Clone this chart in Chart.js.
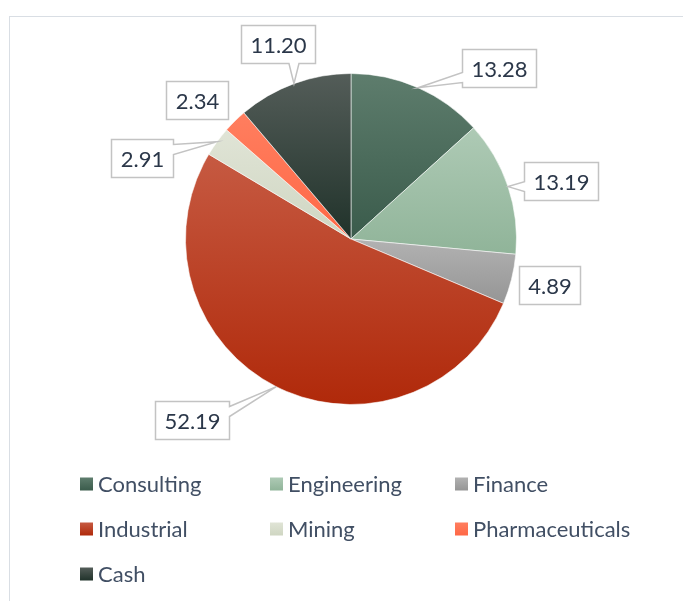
<!DOCTYPE html>
<html>
<head>
<meta charset="utf-8">
<script src="https://cdn.jsdelivr.net/npm/chart.js@4.4.1/dist/chart.umd.min.js"></script>
<style>
  html, body { margin: 0; padding: 0; background: #ffffff; }
  #wrap { width: 683px; height: 601px; }
</style>
</head>
<body>
<div id="wrap"><canvas id="pieChart" width="683" height="601"></canvas></div>
<script>
// chart values
const categories = ['Consulting', 'Engineering', 'Finance', 'Industrial', 'Mining', 'Pharmaceuticals', 'Cash'];
const shares = [13.28, 13.19, 4.89, 52.19, 2.91, 2.34, 11.20];
const valueLabels = ['13.28', '13.19', '4.89', '52.19', '2.91', '2.34', '11.20'];

// slice colours (top / bottom of the vertical gradient)
const topColors = ['#5e7d6d', '#aecab5', '#b2b2b2', '#c65a42', '#e0e4d6', '#ff7e5f', '#545d59'];
const bottomColors = ['#3a5b4b', '#90b499', '#959595', '#b0290a', '#cfd6c2', '#ff6846', '#20322a'];

// where each callout box sits, relative to the slice edge
const labelOffsets = [[81, -20], [53, -6], [38, 6], [-84, 33], [-75, 16], [-38, -21], [-16, -40]];

const FONT = 'Lato, "Open Sans", sans-serif';

function sliceGradient(context) {
    const chart = context.chart;
    const area = chart.chartArea;
    const i = context.dataIndex;
    if (!area || i === undefined) return topColors[i] || '#999';
    const cx = (area.left + area.right) / 2;
    const cy = (area.top + area.bottom) / 2;
    const r = Math.min(area.width, area.height) / 2;
    const total = shares.reduce((a, b) => a + b, 0);
    let before = 0;
    for (let k = 0; k < i; k++) before += shares[k];
    const s = -Math.PI / 2 + before / total * Math.PI * 2;
    const e = s + shares[i] / total * Math.PI * 2;
    const ys = [cy, cy + r * Math.sin(s), cy + r * Math.sin(e)];
    [-Math.PI / 2, Math.PI / 2, Math.PI * 1.5].forEach(a => {
        if (a >= s && a <= e) ys.push(cy + r * Math.sin(a));
    });
    const g = chart.ctx.createLinearGradient(0, Math.min(...ys), 0, Math.max(...ys));
    g.addColorStop(0, topColors[i]);
    g.addColorStop(1, bottomColors[i]);
    return g;
}

// light frame round the chart area
const framePlugin = {
    id: 'frame',
    beforeDraw(chart) {
        const ctx = chart.ctx;
        ctx.save();
        ctx.strokeStyle = '#d9dee4';
        ctx.lineWidth = 1;
        ctx.strokeRect(9.5, 16.5, 900, 900);
        ctx.restore();
    }
};

// callout boxes with a small wedge pointing at the slice
const calloutPlugin = {
    id: 'callouts',
    afterDatasetsDraw(chart) {
        const ctx = chart.ctx;
        const arcs = chart.getDatasetMeta(0).data;
        ctx.save();
        ctx.font = '22px ' + FONT;
        ctx.textAlign = 'center';
        ctx.textBaseline = 'middle';
        arcs.forEach((arc, i) => {
            const mid = (arc.startAngle + arc.endAngle) / 2;
            const ax = arc.x + Math.cos(mid) * arc.outerRadius;
            const ay = arc.y + Math.sin(mid) * arc.outerRadius;
            const bx = ax + labelOffsets[i][0];
            const by = ay + labelOffsets[i][1];
            const w = ctx.measureText(valueLabels[i]).width + 18;
            const h = 38;
            const L = Math.round(bx - w / 2) + 0.5, R = Math.round(bx + w / 2) + 0.5;
            const T = Math.round(by - h / 2) + 0.5, B = Math.round(by + h / 2) + 0.5;

            const corners = [[L, T], [R, T], [R, B], [L, B]];
            const dist = {
                top: T - ay, right: ax - R, bottom: ay - B, left: L - ax
            };
            const side = Object.keys(dist).reduce((a, b) => dist[a] > dist[b] ? a : b);
            const path = [];
            const edgeIndex = { top: 0, right: 1, bottom: 2, left: 3 }[side];
            const useWedge = dist[side] > 12;
            corners.forEach((c, k) => {
                path.push(c);
                if (useWedge && k === edgeIndex) {
                    const n = corners[(k + 1) % 4];
                    const horiz = side === 'top' || side === 'bottom';
                    const m = 10;
                    const half = 5;
                    if (horiz) {
                        const cxp = Math.min(Math.max(ax, L + m), R - m);
                        const dir = Math.sign(n[0] - c[0]);
                        path.push([cxp - dir * half, c[1]], [ax, ay], [cxp + dir * half, c[1]]);
                    } else {
                        const cyp = Math.min(Math.max(ay, T + m), B - m);
                        const dir = Math.sign(n[1] - c[1]);
                        path.push([c[0], cyp - dir * half], [ax, ay], [c[0], cyp + dir * half]);
                    }
                }
            });
            ctx.beginPath();
            path.forEach((p, k) => k ? ctx.lineTo(p[0], p[1]) : ctx.moveTo(p[0], p[1]));
            ctx.closePath();
            ctx.fillStyle = '#ffffff';
            ctx.fill();
            ctx.strokeStyle = '#c3c3c3';
            ctx.lineWidth = 1.5;
            ctx.stroke();

            ctx.fillStyle = '#2b3749';
            ctx.fillText(valueLabels[i], (L + R) / 2, (T + B) / 2 + 1);
        });
        ctx.restore();
    }
};

// legend laid out in three fixed columns
const legendPlugin = {
    id: 'gridLegend',
    afterDraw(chart) {
        const ctx = chart.ctx;
        const colX = [80, 270, 455];
        const rowY = [484, 529, 574];
        ctx.save();
        ctx.font = '22px ' + FONT;
        ctx.textBaseline = 'middle';
        ctx.textAlign = 'left';
        chart.data.labels.forEach((label, i) => {
            const x = colX[i % 3];
            const y = rowY[Math.floor(i / 3)];
            const g = ctx.createLinearGradient(0, y - 6.5, 0, y + 6.5);
            g.addColorStop(0, topColors[i]);
            g.addColorStop(1, bottomColors[i]);
            ctx.fillStyle = g;
            ctx.fillRect(x, y - 6.5, 13, 13);
            ctx.fillStyle = '#414f64';
            ctx.fillText(label, x + 18, y + 1);
        });
        ctx.restore();
    }
};

const ctx = document.getElementById('pieChart').getContext('2d');
new Chart(ctx, {
    type: 'pie',
    data: {
        labels: categories,
        datasets: [{
            data: shares,
            backgroundColor: sliceGradient,
            borderColor: 'rgba(255,255,255,0.55)',
            borderWidth: 1,
            hoverOffset: 0
        }]
    },
    options: {
        responsive: false,
        devicePixelRatio: 1,
        animation: false,
        layout: {
            padding: { left: 185, right: 166, top: 73, bottom: 196 }
        },
        plugins: {
            legend: { display: false },
            tooltip: { enabled: false }
        }
    },
    plugins: [framePlugin, calloutPlugin, legendPlugin]
});
</script>
</body>
</html>
